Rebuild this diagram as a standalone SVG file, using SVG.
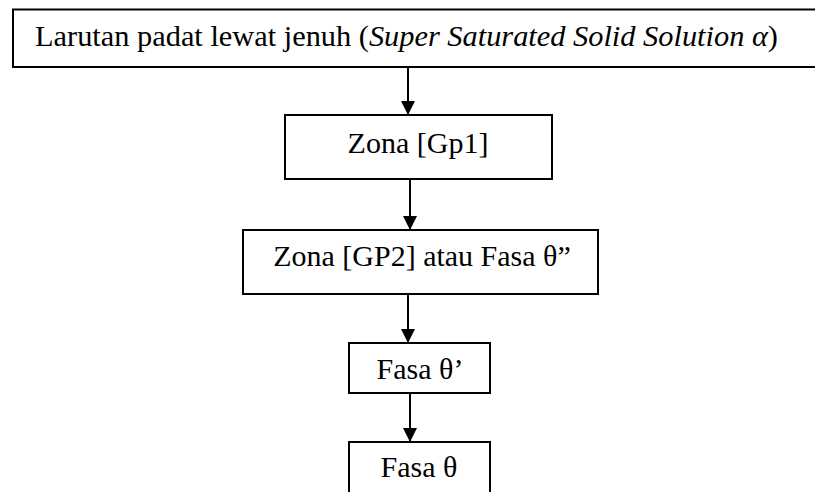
<svg xmlns="http://www.w3.org/2000/svg" width="815" height="492" viewBox="0 0 815 492">
<style>
.box{fill:#fff;stroke:#000;stroke-width:2}
.t{font-family:"Liberation Serif","Times New Roman",serif;font-size:30px;fill:#000}
.c{stroke:#000;stroke-width:2;fill:none;marker-end:url(#ah)}
</style>
<defs>
<marker id="ah" markerUnits="userSpaceOnUse" markerWidth="14" markerHeight="14" refX="14" refY="7" orient="auto">
<path d="M0,0 L14,7 L0,14 z" fill="#000"/>
</marker>
</defs>
<rect x="0" y="0" width="815" height="492" fill="#fff"/>
<g id="n1">
<rect class="box" x="13" y="9.5" width="812" height="57.5"/>
<text class="t" x="35" y="46" textLength="743" lengthAdjust="spacingAndGlyphs">Larutan padat lewat jenuh (<tspan font-style="italic">Super Saturated Solid Solution α</tspan>)</text>
</g>
<g id="n2">
<rect class="box" x="285" y="115" width="267" height="64"/>
<text class="t" x="418" y="152.5" text-anchor="middle">Zona [Gp1]</text>
</g>
<g id="n3">
<rect class="box" x="243" y="230" width="355" height="64"/>
<text class="t" x="422" y="266" text-anchor="middle">Zona [GP2] atau Fasa θ”</text>
</g>
<g id="n4">
<rect class="box" x="349" y="343" width="141" height="50"/>
<text class="t" x="420" y="379" text-anchor="middle">Fasa θ’</text>
</g>
<g id="n5">
<rect class="box" x="349" y="442" width="141" height="60"/>
<text class="t" x="419" y="477" text-anchor="middle">Fasa θ</text>
</g>
<g id="connectors">
<line class="c" x1="408" y1="67" x2="408" y2="115"/>
<line class="c" x1="410" y1="179" x2="410" y2="230"/>
<line class="c" x1="408" y1="294" x2="408" y2="343"/>
<line class="c" x1="410" y1="393" x2="410" y2="442"/>
</g>
</svg>
